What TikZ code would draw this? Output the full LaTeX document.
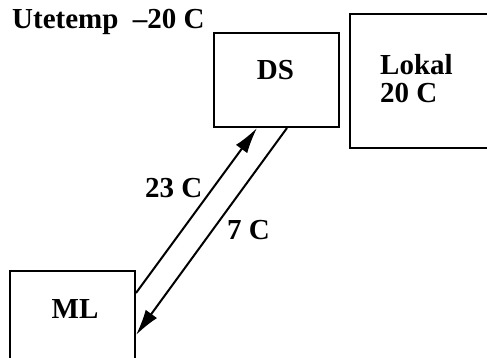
\documentclass[tikz,border=0pt]{standalone}
\usepackage{fontspec}
\setmainfont{Liberation Serif}
\usetikzlibrary{arrows.meta}
\begin{document}
\begin{tikzpicture}[x=1pt,y=1pt,
  box/.style={draw, line width=2pt, rectangle, inner sep=0pt},
  lbl/.style={font=\fontsize{29}{30}\selectfont\bfseries, inner sep=0pt},
  conn/.style={line width=2pt, -{Latex[length=26pt,width=14pt]}}]
\useasboundingbox (0,0) rectangle (487,358);
\clip (0,0) rectangle (487,358);
\node[box, minimum width=125pt, minimum height=94pt] (DS) at (276.5,278) {};
\node[box, minimum width=141pt, minimum height=134pt, anchor=north west] (LK) at (349,345) {};
\node[box, minimum width=125pt, minimum height=98pt, anchor=north west] (ML) at (9,88) {};
\node[lbl, anchor=base] (dst) at (275.5,278) {DS};
\node[lbl, anchor=base] (mlt) at (75,39) {ML};
\node[lbl, anchor=base west] (lk1) at (380,283) {Lokal};
\node[lbl, anchor=base west] (lk2) at (380,255) {20 C};
\node[lbl, anchor=base west] (ute) at (12,329) {Utetemp\ \ --20 C};
\node[lbl, anchor=base west] (l23) at (145,160) {23 C};
\node[lbl, anchor=base west] (l7) at (227,118) {7 C};
\coordinate (a1s) at (ML.east |- 0,65);
\coordinate (a1e) at (257,0 |- DS.south);
\coordinate (a2s) at (287,0 |- DS.south);
\coordinate (a2e) at (ML.east |- 0,23);
\draw[conn] (a1s) -- (a1e);
\draw[conn] (a2s) -- (a2e);
\end{tikzpicture}
\end{document}
